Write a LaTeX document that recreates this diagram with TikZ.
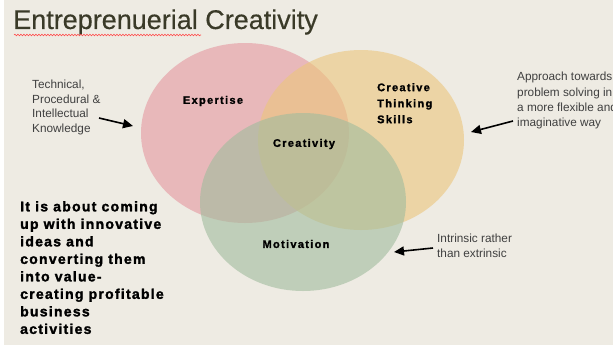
\documentclass[tikz,border=0pt]{standalone}
\usepackage{fontspec}
\setmainfont{Liberation Sans}
\usetikzlibrary{arrows.meta,decorations.pathmorphing}
\definecolor{bgc}{RGB}{238,235,227}
\definecolor{pinkc}{RGB}{228,150,159}
\definecolor{yellowc}{RGB}{236,198,124}
\definecolor{greenc}{RGB}{160,188,157}
\definecolor{titlec}{RGB}{58,58,40}
\definecolor{notec}{RGB}{64,64,64}
\newfontfamily\heavy[FakeBold=1.8,LetterSpace=9]{Liberation Sans Bold}
\newfontfamily\heavylbl[FakeBold=1.4,LetterSpace=12]{Liberation Sans Bold}
\newfontfamily\titlefont[FakeBold=0.4]{Liberation Sans}
\tikzset{
  circ/.style={draw=none, fill opacity=0.6},
  lbl/.style={font=\fontsize{11}{14}\selectfont\heavylbl, text=black, align=left, inner sep=0pt},
  note/.style={font=\fontsize{11.8}{14.6}\selectfont, text=notec, align=left, inner sep=0pt, anchor=north west},
  arr/.style={-{Triangle[length=10pt,width=9pt]}, line width=1.6pt, black},
}
\begin{document}
\begin{tikzpicture}[x=1pt,y=-1pt]
\useasboundingbox (0,0) rectangle (613,349);
\fill[white] (0,0) rectangle (613,349);
\fill[bgc] (4,0) rectangle (613,345);
% title
\node[anchor=west, inner sep=0pt, font=\fontsize{27}{30}\selectfont\titlefont, text=titlec] (title) at (13,22) {Entreprenuerial Creativity};
\draw[red!70, line width=0.6pt, decorate, decoration={snake, amplitude=0.8pt, segment length=3pt}] (14,35) -- (201,35);
% ellipses
\fill[pinkc, circ] (245,133) ellipse [x radius=104, y radius=90];
\fill[yellowc, circ] (361,140) ellipse [x radius=103, y radius=90];
\fill[greenc, circ] (303,202) ellipse [x radius=103, y radius=89];
% labels
\node[lbl] (expertise) at (213,101) {Expertise};
\node[lbl, anchor=north west, font=\fontsize{11}{16}\selectfont\heavylbl] (cts) at (377,83) {Creative\\Thinking\\Skills};
\node[lbl] (creativity) at (304,144) {Creativity};
\node[lbl] (motivation) at (296,244) {Motivation};
% notes
\node[note] (tech) at (32,80) {Technical,\\Procedural \&\\Intellectual\\Knowledge};
\node[note, font=\fontsize{11.8}{15.3}\selectfont] (approach) at (517,72) {Approach towards\\problem solving in\\a more flexible and\\imaginative way};
\node[note] (intrinsic) at (437,234) {Intrinsic rather\\than extrinsic};
\node[anchor=north west, inner sep=0pt, align=left, font=\fontsize{14}{17.5}\selectfont\heavy, text=black] (about) at (20,201) {It is about coming\\up with innovative\\ideas and\\converting them\\into value-\\creating profitable\\business\\activities};
% arrows
\coordinate (a1s) at (99,118);
\coordinate (a1e) at (133,126);
\coordinate (a2s) at (513,121);
\coordinate (a2e) at (471,132);
\coordinate (a3s) at (433,248);
\coordinate (a3e) at (394,252);
\draw[arr] (a1s) -- (a1e);
\draw[arr] (a2s) -- (a2e);
\draw[arr] (a3s) -- (a3e);
\end{tikzpicture}
\end{document}
